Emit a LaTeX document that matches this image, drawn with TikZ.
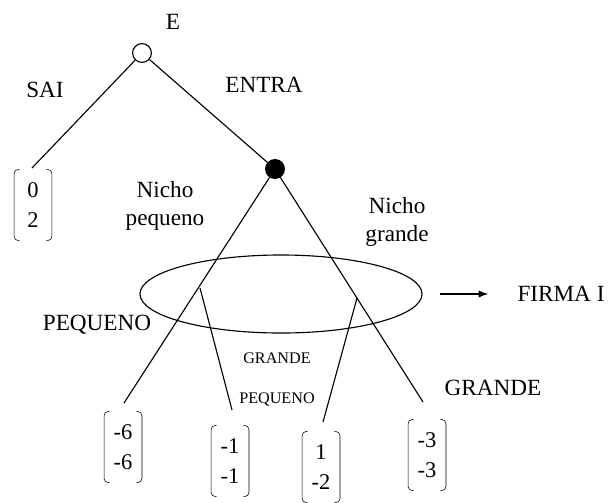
\documentclass[tikz,border=0pt]{standalone}
\usepackage{fontspec}
\setmainfont{Liberation Serif}
\usetikzlibrary{arrows.meta,shapes.geometric}

% rounded brackets round a payoff node
\newcommand{\brk}[1]{%
  \draw[thin,rounded corners=3pt] ([xshift=4pt]#1.north west) -- (#1.north west) -- (#1.south west) -- ([xshift=4pt]#1.south west);
  \draw[thin,rounded corners=3pt] ([xshift=-4pt]#1.north east) -- (#1.north east) -- (#1.south east) -- ([xshift=-4pt]#1.south east);}

\begin{document}
\begin{tikzpicture}[x=0.025cm,y=-0.025cm,line width=0.8pt,
    every node/.style={font=\fontsize{16.5}{20}\selectfont},
    dec/.style={circle,draw,minimum size=0.47cm,inner sep=0pt},
    payoff/.style={align=center,minimum width=0.92cm,minimum height=1.75cm,inner sep=0pt,font=\fontsize{16}{21}\selectfont},
    lbl/.style={align=center,font=\fontsize{16.5}{20}\selectfont},
    small/.style={font=\fontsize{11.5}{13}\selectfont}]
    \useasboundingbox (0,0) rectangle (609,502);

    % Decision nodes
    \node[dec,fill=white] (E) at (142,53) {};
    \node[dec,fill=black] (F) at (275,169) {};
    \node (Elbl) at (173,22) {E};

    % End points of the branches
    \coordinate (s0) at (32,168);
    \coordinate (p1) at (124,403);
    \coordinate (p4) at (423,402);
    \coordinate (q1) at (200,288);
    \coordinate (q1e) at (232,410);
    \coordinate (q2) at (357,298);
    \coordinate (q2e) at (323,422);

    % Branches
    \draw (E) -- (s0);
    \draw (E) -- (F);
    \draw (F) -- (p1);
    \draw (F) -- (p4);
    \draw (q1) -- (q1e);
    \draw (q2) -- (q2e);

    % Information set
    \node[draw,ellipse,minimum width=7.05cm,minimum height=1.95cm,inner sep=0pt] (info) at (281,294) {};
    \coordinate (a0) at (440,294);
    \node (firma) at (561,294) {FIRMA I};
    \draw[-{Latex[length=2.4mm,width=1.8mm]},shorten >=0.6cm] (a0) -- (firma.west);

    % Payoffs
    \node[payoff] (v0) at (33,205) {0\\2};
    \node[payoff] (v1) at (123,447) {-6\\-6};
    \node[payoff] (v2) at (230,461) {-1\\-1};
    \node[payoff] (v3) at (321,467) {1\\-2};
    \node[payoff] (v4) at (427,455) {-3\\-3};
    \brk{v0} \brk{v1} \brk{v2} \brk{v3} \brk{v4}

    % Labels
    \node (sai) at (45,90) {SAI};
    \node (entra) at (264,85) {ENTRA};
    \node[lbl] (np) at (165,206) {Nicho\\pequeno};
    \node[lbl] (ng) at (397,222) {Nicho\\grande};
    \node (peq) at (97,325) {PEQUENO};
    \node (gra) at (493,388) {GRANDE};
    \node[small] (gra2) at (277,358) {GRANDE};
    \node[small] (peq2) at (277,399) {PEQUENO};
\end{tikzpicture}
\end{document}
